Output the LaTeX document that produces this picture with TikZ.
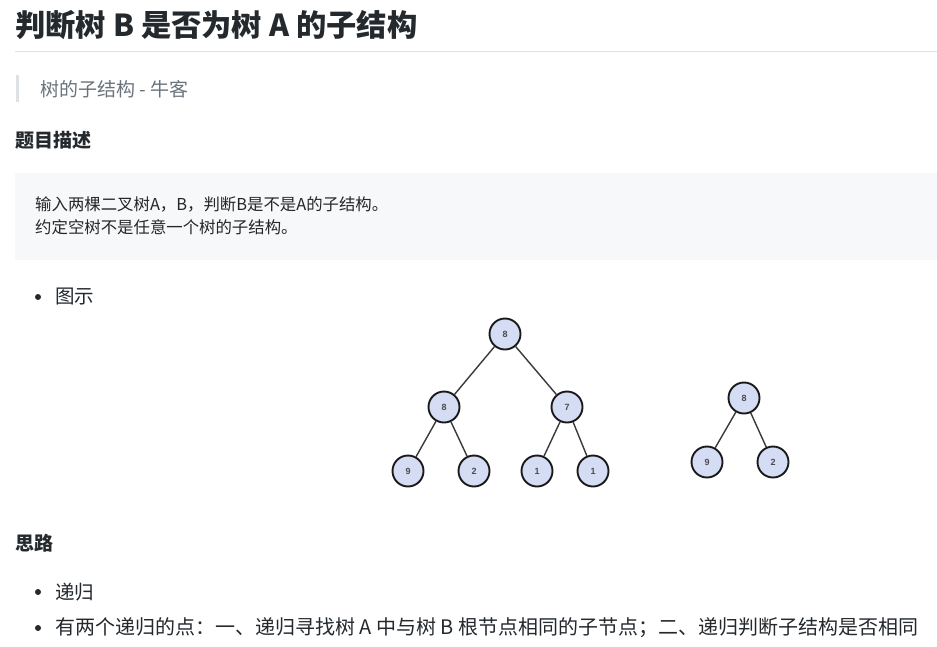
\documentclass[tikz,border=0pt]{standalone}
\usepackage{fontspec}
\setmainfont{Noto Sans CJK SC}
\newfontfamily\numfont{Liberation Sans}
\definecolor{textcol}{HTML}{24292E}
\definecolor{quotecol}{HTML}{6A737D}
\definecolor{barcol}{HTML}{DFE2E5}
\definecolor{codebg}{HTML}{F6F8FA}
\definecolor{nodefill}{HTML}{D5DDF5}
\definecolor{edgecol}{HTML}{3A3A3A}
\tikzset{
  txt/.style={anchor=west, inner sep=0pt, text=textcol},
  tnode/.style={circle, draw=black!90, line width=1.9pt, fill=nodefill, minimum size=31pt, inner sep=0pt,
     font=\numfont\bfseries\fontsize{9}{10}\selectfont, text=black!70},
  tedge/.style={draw=edgecol, line width=1.4pt},
  bulletdot/.style={circle, fill=textcol, minimum size=6pt, inner sep=0pt}
}
\begin{document}
\begin{tikzpicture}[x=1pt,y=-1pt]
\useasboundingbox (0,0) rectangle (937,646);
\fill[white] (0,0) rectangle (937,646);

% title
\node[txt] (title) at (15,25) {\fontsize{30.3}{34}\selectfont\bfseries 判断树 B 是否为树 A 的子结构};
\draw[barcol, line width=1pt] (15,51) -- (937,51);

% blockquote
\fill[barcol] (16,75) rectangle (19,102);
\node[txt, text=quotecol] (quote) at (40,89) {\fontsize{19}{22}\selectfont 树的子结构 - 牛客};

% heading 1
\node[txt] (h1) at (15,140) {\fontsize{19}{22}\selectfont\bfseries 题目描述};

% code block
\fill[codebg] (15,173) rectangle (937,260);
\node[txt, text=black!85] (code1) at (35,204) {\fontsize{16.4}{19}\selectfont 输入两棵二叉树A，B，判断B是不是A的子结构。};
\node[txt, text=black!85] (code2) at (35,227) {\fontsize{16.4}{19}\selectfont 约定空树不是任意一个树的子结构。};

% bullet 图示
\node[bulletdot] (b1) at (38,297) {};
\node[txt] (tushi) at (55,297) {\fontsize{19.5}{22}\selectfont 图示};

% tree A
\node[tnode] (a1) at (505,334) {8};
\node[tnode] (a2) at (444,407) {8};
\node[tnode] (a3) at (567,407) {7};
\node[tnode] (a4) at (408,471) {9};
\node[tnode] (a5) at (474,471) {2};
\node[tnode] (a6) at (537,471) {1};
\node[tnode] (a7) at (593,471) {1};
\draw[tedge] (a1) -- (a2);
\draw[tedge] (a1) -- (a3);
\draw[tedge] (a2) -- (a4);
\draw[tedge] (a2) -- (a5);
\draw[tedge] (a3) -- (a6);
\draw[tedge] (a3) -- (a7);

% tree B
\node[tnode] (b1n) at (744,398) {8};
\node[tnode] (b2n) at (707,462) {9};
\node[tnode] (b3n) at (773,462) {2};
\draw[tedge] (b1n) -- (b2n);
\draw[tedge] (b1n) -- (b3n);

% heading 2
\node[txt] (h2) at (15,543) {\fontsize{19}{22}\selectfont\bfseries 思路};

\node[bulletdot] (b2) at (38,592) {};
\node[txt] (digui) at (55,592) {\fontsize{19.5}{22}\selectfont 递归};
\node[bulletdot] (b3) at (38,628) {};
\node[txt] (points) at (55,628) {\fontsize{20}{22}\selectfont 有两个递归的点：一、递归寻找树 A 中与树 B 根节点相同的子节点；二、递归判断子结构是否相同};
\end{tikzpicture}
\end{document}
